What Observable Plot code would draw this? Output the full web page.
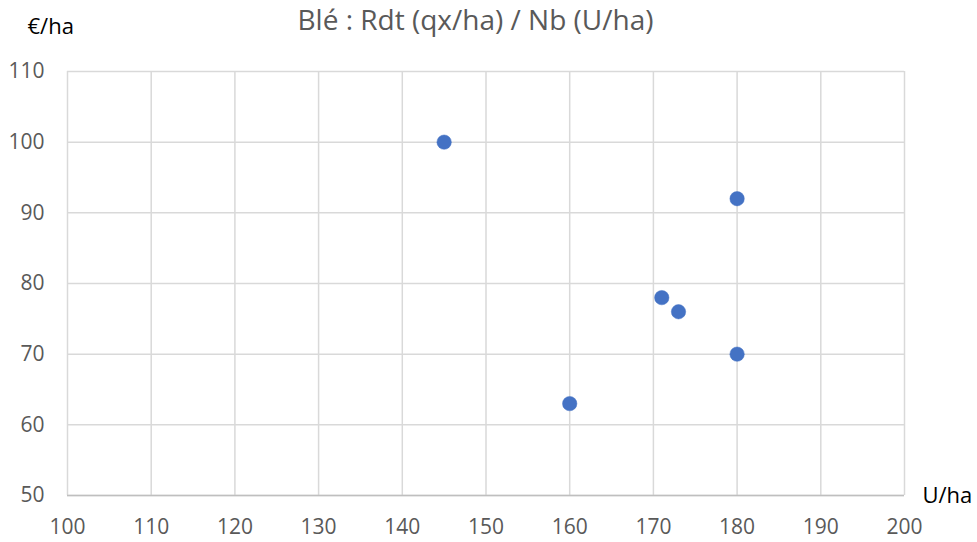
<!DOCTYPE html>
<html><head><meta charset="utf-8">
<script src="https://cdn.jsdelivr.net/npm/d3@7"></script>
<script src="https://cdn.jsdelivr.net/npm/@observablehq/plot@0.6"></script>
<style>
html,body{margin:0;padding:0;background:#fff;}
svg{font-family:"Open Sans",sans-serif;}
</style>
</head><body>
<div id="chart"></div>
<script>
const nbUnits = [145, 180, 171, 173, 180, 160];
const values = [100, 92, 78, 76, 70, 63];
const xTicks = [100,110,120,130,140,150,160,170,180,190,200];
const yTicks = [50,60,70,80,90,100,110];
const title = "Blé : Rdt (qx/ha) / Nb (U/ha)";
const yLabel = "€/ha";
const xLabel = "U/ha";

const data = nbUnits.map((x, i) => ({x, y: values[i]}));

const chart = Plot.plot({
  width: 977,
  height: 542,
  marginLeft: 67,
  marginRight: 73,
  marginTop: 71,
  marginBottom: 47,
  style: {fontFamily: "Open Sans, sans-serif", background: "#fff", overflow: "visible"},
  x: {domain: [100, 200], ticks: xTicks, label: null},
  y: {domain: [50, 110], ticks: yTicks, label: null},
  marks: [
    Plot.gridX(xTicks, {stroke: "#d9d9d9", strokeOpacity: 1, strokeWidth: 1.5}),
    Plot.gridY(yTicks, {stroke: "#d9d9d9", strokeOpacity: 1, strokeWidth: 1.5}),
    Plot.ruleY([50], {stroke: "#bfbfbf", strokeWidth: 1.5}),
    Plot.axisX(xTicks, {tickSize: 0, tickPadding: 24, fontSize: 21, fill: "#595959", tickFormat: d => String(d)}),
    Plot.axisY(yTicks, {tickSize: 0, tickPadding: 23, fontSize: 21, fill: "#595959", tickFormat: d => String(d)}),
    Plot.dot(data, {x: "x", y: "y", r: 7.2, fill: "#4472C4", stroke: "#4472C4", strokeWidth: 0.5}),
    Plot.text([title], {frameAnchor: "top", lineAnchor: "middle", dy: -50, dx: -10.5, fontSize: 28, fill: "#595959", text: d => d}),
    Plot.text([yLabel], {frameAnchor: "top-left", lineAnchor: "middle", dx: -40, dy: -45, fontSize: 22, fill: "#000", textAnchor: "start", text: d => d}),
    Plot.text([xLabel], {frameAnchor: "bottom-right", lineAnchor: "middle", dx: 18, dy: 0, fontSize: 22, fill: "#000", textAnchor: "start", text: d => d})
  ]
});
document.getElementById("chart").appendChild(chart);
</script>
</body></html>
